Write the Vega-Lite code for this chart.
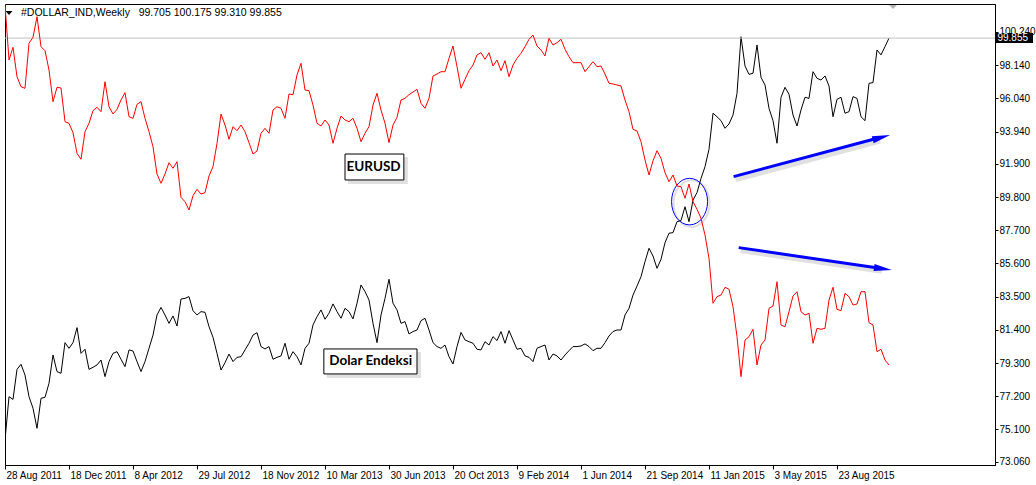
{
"$schema": "https://vega.github.io/schema/vega-lite/v6.json",
"width": 990, "height": 461,
"autosize": {"type": "none"},
"padding": {"left": 5, "top": 4, "right": 41, "bottom": 20},
"background": "#ffffff",
"config": {"view": {"stroke": "#000000", "strokeWidth": 1}, "font": "Liberation Sans",
  "axis": {"labelOverlap": false, "labelFlush": false, "grid": false, "labelFont": "Liberation Sans", "labelFontSize": 10, "labelColor": "#000000", "tickColor": "#000000", "domainColor": "#000000"}},
"datasets": {"weekly": [
{"date":"2011-08-28","dx":74.43,"eurusd":1.4214},{"date":"2011-09-04","dx":77.17,"eurusd":1.3664},{"date":"2011-09-11","dx":77.00,"eurusd":1.3791},{"date":"2011-09-18","dx":78.90,"eurusd":1.3497},{"date":"2011-09-25","dx":79.22,"eurusd":1.3397},{"date":"2011-10-02","dx":78.54,"eurusd":1.3381},{"date":"2011-10-09","dx":77.17,"eurusd":1.3831},{"date":"2011-10-16","dx":76.44,"eurusd":1.3891},{"date":"2011-10-23","dx":75.17,"eurusd":1.4097},{"date":"2011-10-30","dx":77.07,"eurusd":1.3797},
{"date":"2011-11-06","dx":77.13,"eurusd":1.3757},{"date":"2011-11-13","dx":78.02,"eurusd":1.3564},{"date":"2011-11-20","dx":79.81,"eurusd":1.3247},{"date":"2011-11-27","dx":78.76,"eurusd":1.3391},{"date":"2011-12-04","dx":78.65,"eurusd":1.3384},{"date":"2011-12-11","dx":80.59,"eurusd":1.3047},{"date":"2011-12-18","dx":80.23,"eurusd":1.3031},{"date":"2011-12-25","dx":80.59,"eurusd":1.2937},{"date":"2012-01-01","dx":81.54,"eurusd":1.2731},{"date":"2012-01-08","dx":79.91,"eurusd":1.2671},
{"date":"2012-01-15","dx":80.17,"eurusd":1.2947},{"date":"2012-01-22","dx":78.90,"eurusd":1.3031},{"date":"2012-01-29","dx":79.03,"eurusd":1.3157},{"date":"2012-02-05","dx":79.18,"eurusd":1.3191},{"date":"2012-02-12","dx":79.49,"eurusd":1.3147},{"date":"2012-02-19","dx":78.44,"eurusd":1.3447},{"date":"2012-02-26","dx":79.39,"eurusd":1.3197},{"date":"2012-03-04","dx":79.91,"eurusd":1.3124},{"date":"2012-03-11","dx":80.02,"eurusd":1.3171},{"date":"2012-03-18","dx":79.54,"eurusd":1.3264},
{"date":"2012-03-25","dx":79.07,"eurusd":1.3337},{"date":"2012-04-01","dx":80.13,"eurusd":1.3097},{"date":"2012-04-08","dx":80.06,"eurusd":1.3081},{"date":"2012-04-15","dx":79.39,"eurusd":1.3221},{"date":"2012-04-22","dx":78.76,"eurusd":1.3247},{"date":"2012-04-29","dx":79.39,"eurusd":1.3081},{"date":"2012-05-06","dx":80.23,"eurusd":1.2947},{"date":"2012-05-13","dx":81.07,"eurusd":1.2797},{"date":"2012-05-20","dx":82.34,"eurusd":1.2524},{"date":"2012-05-27","dx":82.82,"eurusd":1.2431},
{"date":"2012-06-03","dx":82.34,"eurusd":1.2524},{"date":"2012-06-10","dx":81.81,"eurusd":1.2637},{"date":"2012-06-17","dx":82.28,"eurusd":1.2581},{"date":"2012-06-24","dx":81.64,"eurusd":1.2647},{"date":"2012-07-01","dx":83.35,"eurusd":1.2291},{"date":"2012-07-08","dx":83.39,"eurusd":1.2247},{"date":"2012-07-15","dx":83.50,"eurusd":1.2164},{"date":"2012-07-22","dx":82.61,"eurusd":1.2307},{"date":"2012-07-29","dx":82.34,"eurusd":1.2371},{"date":"2012-08-05","dx":82.55,"eurusd":1.2324},
{"date":"2012-08-12","dx":82.51,"eurusd":1.2337},{"date":"2012-08-19","dx":81.60,"eurusd":1.2504},{"date":"2012-08-26","dx":80.93,"eurusd":1.2597},{"date":"2012-09-02","dx":79.91,"eurusd":1.2831},{"date":"2012-09-09","dx":78.86,"eurusd":1.3124},{"date":"2012-09-16","dx":79.32,"eurusd":1.3014},{"date":"2012-09-23","dx":79.87,"eurusd":1.2871},{"date":"2012-09-30","dx":79.39,"eurusd":1.2997},{"date":"2012-10-07","dx":79.66,"eurusd":1.2957},{"date":"2012-10-14","dx":79.70,"eurusd":1.3014},
{"date":"2012-10-21","dx":80.13,"eurusd":1.2947},{"date":"2012-10-28","dx":80.55,"eurusd":1.2837},{"date":"2012-11-04","dx":81.07,"eurusd":1.2724},{"date":"2012-11-11","dx":81.22,"eurusd":1.2754},{"date":"2012-11-18","dx":80.34,"eurusd":1.2931},{"date":"2012-11-25","dx":80.19,"eurusd":1.2981},{"date":"2012-12-02","dx":80.34,"eurusd":1.2931},{"date":"2012-12-09","dx":79.54,"eurusd":1.3164},{"date":"2012-12-16","dx":79.66,"eurusd":1.3197},{"date":"2012-12-23","dx":79.75,"eurusd":1.3181},
{"date":"2012-12-30","dx":80.55,"eurusd":1.3081},{"date":"2013-01-06","dx":79.54,"eurusd":1.3324},{"date":"2013-01-13","dx":80.02,"eurusd":1.3317},{"date":"2013-01-20","dx":79.70,"eurusd":1.3514},{"date":"2013-01-27","dx":79.18,"eurusd":1.3631},{"date":"2013-02-03","dx":80.23,"eurusd":1.3364},{"date":"2013-02-10","dx":80.55,"eurusd":1.3357},{"date":"2013-02-17","dx":81.71,"eurusd":1.3214},{"date":"2013-02-24","dx":82.23,"eurusd":1.3031},{"date":"2013-03-03","dx":82.66,"eurusd":1.3004},
{"date":"2013-03-10","dx":82.07,"eurusd":1.3064},{"date":"2013-03-17","dx":82.45,"eurusd":1.3014},{"date":"2013-03-24","dx":83.04,"eurusd":1.2831},{"date":"2013-03-31","dx":82.55,"eurusd":1.2981},{"date":"2013-04-07","dx":82.13,"eurusd":1.3104},{"date":"2013-04-14","dx":82.76,"eurusd":1.3064},{"date":"2013-04-21","dx":82.55,"eurusd":1.3047},{"date":"2013-04-28","dx":82.09,"eurusd":1.3081},{"date":"2013-05-05","dx":83.08,"eurusd":1.2981},{"date":"2013-05-12","dx":84.24,"eurusd":1.2847},
{"date":"2013-05-19","dx":83.82,"eurusd":1.2931},{"date":"2013-05-26","dx":83.29,"eurusd":1.2997},{"date":"2013-06-02","dx":81.81,"eurusd":1.3214},{"date":"2013-06-09","dx":80.59,"eurusd":1.3331},{"date":"2013-06-16","dx":82.34,"eurusd":1.3164},{"date":"2013-06-23","dx":83.39,"eurusd":1.3031},{"date":"2013-06-30","dx":84.60,"eurusd":1.2837},{"date":"2013-07-07","dx":83.08,"eurusd":1.3014},{"date":"2013-07-14","dx":82.66,"eurusd":1.3091},{"date":"2013-07-21","dx":81.81,"eurusd":1.3264},
{"date":"2013-07-28","dx":81.92,"eurusd":1.3281},{"date":"2013-08-04","dx":81.14,"eurusd":1.3317},{"date":"2013-08-11","dx":81.29,"eurusd":1.3344},{"date":"2013-08-18","dx":81.39,"eurusd":1.3371},{"date":"2013-08-25","dx":81.98,"eurusd":1.3231},{"date":"2013-09-01","dx":82.13,"eurusd":1.3181},{"date":"2013-09-08","dx":81.39,"eurusd":1.3281},{"date":"2013-09-15","dx":80.59,"eurusd":1.3504},{"date":"2013-09-22","dx":80.34,"eurusd":1.3524},{"date":"2013-09-29","dx":80.23,"eurusd":1.3547},
{"date":"2013-10-06","dx":80.44,"eurusd":1.3547},{"date":"2013-10-13","dx":79.70,"eurusd":1.3681},{"date":"2013-10-20","dx":79.24,"eurusd":1.3804},{"date":"2013-10-27","dx":80.34,"eurusd":1.3597},{"date":"2013-11-03","dx":81.24,"eurusd":1.3381},{"date":"2013-11-10","dx":80.76,"eurusd":1.3471},{"date":"2013-11-17","dx":80.65,"eurusd":1.3557},{"date":"2013-11-24","dx":80.55,"eurusd":1.3614},{"date":"2013-12-01","dx":80.17,"eurusd":1.3714},{"date":"2013-12-08","dx":80.13,"eurusd":1.3737},
{"date":"2013-12-15","dx":80.65,"eurusd":1.3671},{"date":"2013-12-22","dx":80.44,"eurusd":1.3737},{"date":"2013-12-29","dx":80.97,"eurusd":1.3604},{"date":"2014-01-05","dx":80.72,"eurusd":1.3664},{"date":"2014-01-12","dx":81.29,"eurusd":1.3557},{"date":"2014-01-19","dx":80.55,"eurusd":1.3657},{"date":"2014-01-26","dx":81.35,"eurusd":1.3497},{"date":"2014-02-02","dx":80.76,"eurusd":1.3614},{"date":"2014-02-09","dx":80.17,"eurusd":1.3681},{"date":"2014-02-16","dx":80.23,"eurusd":1.3731},
{"date":"2014-02-23","dx":79.75,"eurusd":1.3797},{"date":"2014-03-02","dx":79.66,"eurusd":1.3871},{"date":"2014-03-09","dx":79.39,"eurusd":1.3914},{"date":"2014-03-16","dx":80.23,"eurusd":1.3804},{"date":"2014-03-23","dx":80.34,"eurusd":1.3764},{"date":"2014-03-30","dx":80.44,"eurusd":1.3704},{"date":"2014-04-06","dx":79.49,"eurusd":1.3881},{"date":"2014-04-13","dx":79.87,"eurusd":1.3814},{"date":"2014-04-20","dx":79.75,"eurusd":1.3837},{"date":"2014-04-27","dx":79.49,"eurusd":1.3871},
{"date":"2014-05-04","dx":79.81,"eurusd":1.3771},{"date":"2014-05-11","dx":80.08,"eurusd":1.3697},{"date":"2014-05-18","dx":80.34,"eurusd":1.3637},{"date":"2014-05-25","dx":80.34,"eurusd":1.3637},{"date":"2014-06-01","dx":80.38,"eurusd":1.3637},{"date":"2014-06-08","dx":80.51,"eurusd":1.3547},{"date":"2014-06-15","dx":80.34,"eurusd":1.3597},{"date":"2014-06-22","dx":80.08,"eurusd":1.3647},{"date":"2014-06-29","dx":80.23,"eurusd":1.3597},{"date":"2014-07-06","dx":80.23,"eurusd":1.3604},
{"date":"2014-07-13","dx":80.59,"eurusd":1.3524},{"date":"2014-07-20","dx":81.01,"eurusd":1.3431},{"date":"2014-07-27","dx":81.29,"eurusd":1.3424},{"date":"2014-08-03","dx":81.39,"eurusd":1.3414},{"date":"2014-08-10","dx":81.39,"eurusd":1.3404},{"date":"2014-08-17","dx":82.34,"eurusd":1.3264},{"date":"2014-08-24","dx":82.76,"eurusd":1.3147},{"date":"2014-08-31","dx":83.60,"eurusd":1.2971},{"date":"2014-09-07","dx":84.17,"eurusd":1.2954},{"date":"2014-09-14","dx":84.76,"eurusd":1.2847},
{"date":"2014-09-21","dx":85.71,"eurusd":1.2664},{"date":"2014-09-28","dx":86.56,"eurusd":1.2514},{"date":"2014-10-05","dx":86.07,"eurusd":1.2657},{"date":"2014-10-12","dx":85.29,"eurusd":1.2757},{"date":"2014-10-19","dx":85.86,"eurusd":1.2681},{"date":"2014-10-26","dx":86.91,"eurusd":1.2537},{"date":"2014-11-02","dx":87.51,"eurusd":1.2447},{"date":"2014-11-09","dx":87.55,"eurusd":1.2514},{"date":"2014-11-16","dx":88.24,"eurusd":1.2404},{"date":"2014-11-23","dx":88.31,"eurusd":1.2397},
{"date":"2014-11-30","dx":89.19,"eurusd":1.2281},{"date":"2014-12-07","dx":88.24,"eurusd":1.2424},{"date":"2014-12-14","dx":89.61,"eurusd":1.2247},{"date":"2014-12-21","dx":90.08,"eurusd":1.2171},{"date":"2014-12-28","dx":90.98,"eurusd":1.2081},{"date":"2015-01-04","dx":91.72,"eurusd":1.1914},{"date":"2015-01-11","dx":92.82,"eurusd":1.1681},{"date":"2015-01-18","dx":95.10,"eurusd":1.1231},{"date":"2015-01-25","dx":94.88,"eurusd":1.1297},{"date":"2015-02-01","dx":94.63,"eurusd":1.1314},
{"date":"2015-02-08","dx":94.15,"eurusd":1.1391},{"date":"2015-02-15","dx":94.42,"eurusd":1.1371},{"date":"2015-02-22","dx":94.99,"eurusd":1.1197},{"date":"2015-03-01","dx":96.36,"eurusd":1.0897},{"date":"2015-03-08","dx":99.94,"eurusd":1.0497},{"date":"2015-03-15","dx":98.09,"eurusd":1.0864},{"date":"2015-03-22","dx":97.56,"eurusd":1.0897},{"date":"2015-03-29","dx":97.63,"eurusd":1.0971},{"date":"2015-04-05","dx":99.42,"eurusd":1.0614},{"date":"2015-04-12","dx":97.37,"eurusd":1.0814},
{"date":"2015-04-19","dx":96.89,"eurusd":1.0864},{"date":"2015-04-26","dx":95.41,"eurusd":1.1181},{"date":"2015-05-03","dx":94.63,"eurusd":1.1204},{"date":"2015-05-10","dx":93.20,"eurusd":1.1447},{"date":"2015-05-17","dx":96.11,"eurusd":1.1014},{"date":"2015-05-24","dx":96.74,"eurusd":1.0997},{"date":"2015-05-31","dx":96.30,"eurusd":1.1147},{"date":"2015-06-07","dx":94.99,"eurusd":1.1304},{"date":"2015-06-14","dx":94.29,"eurusd":1.1347},{"date":"2015-06-21","dx":95.31,"eurusd":1.1147},
{"date":"2015-06-28","dx":96.11,"eurusd":1.1114},{"date":"2015-07-05","dx":96.04,"eurusd":1.1131},{"date":"2015-07-12","dx":97.73,"eurusd":1.0831},{"date":"2015-07-19","dx":97.31,"eurusd":1.0981},{"date":"2015-07-26","dx":97.20,"eurusd":1.0971},{"date":"2015-08-02","dx":97.46,"eurusd":1.0981},{"date":"2015-08-09","dx":96.82,"eurusd":1.1264},{"date":"2015-08-16","dx":94.88,"eurusd":1.1391},{"date":"2015-08-23","dx":95.98,"eurusd":1.1171},{"date":"2015-08-30","dx":96.11,"eurusd":1.1157},
{"date":"2015-09-06","dx":95.10,"eurusd":1.1331},{"date":"2015-09-13","dx":95.20,"eurusd":1.1297},{"date":"2015-09-20","dx":96.15,"eurusd":1.1214},{"date":"2015-09-27","dx":96.04,"eurusd":1.1224},{"date":"2015-10-04","dx":94.88,"eurusd":1.1347},{"date":"2015-10-11","dx":94.63,"eurusd":1.1347},{"date":"2015-10-18","dx":96.99,"eurusd":1.1037},{"date":"2015-10-25","dx":97.04,"eurusd":1.1014},{"date":"2015-11-01","dx":99.10,"eurusd":1.0747},{"date":"2015-11-08","dx":98.79,"eurusd":1.0771},
{"date":"2015-11-15","dx":99.31,"eurusd":1.0664},{"date":"2015-11-22","dx":99.855,"eurusd":1.0614}
]},
"data": {"name": "weekly"},
"layer": [
 {
  "layer": [
   {
    "mark": {"type": "line", "color": "#000000", "strokeWidth": 1, "clip": true},
    "encoding": {
     "x": {"field": "date", "type": "temporal",
       "scale": {"domain": [{"year": 2011, "month": 8, "date": 28, "utc": true}, {"year": 2016, "month": 5, "date": 25, "hours": 12, "utc": true}]},
       "axis": {"title": null, "grid": false, "orient": "bottom", "labelExpr": "utcFormat(datum.value, '%-d %b %Y')", "tickCount": 40,
         "values": [
          {"year": 2011, "month": 8, "date": 28, "utc": true}, {"year": 2011, "month": 12, "date": 18, "utc": true},
          {"year": 2012, "month": 4, "date": 8, "utc": true}, {"year": 2012, "month": 7, "date": 29, "utc": true},
          {"year": 2012, "month": 11, "date": 18, "utc": true}, {"year": 2013, "month": 3, "date": 10, "utc": true},
          {"year": 2013, "month": 6, "date": 30, "utc": true}, {"year": 2013, "month": 10, "date": 20, "utc": true},
          {"year": 2014, "month": 2, "date": 9, "utc": true}, {"year": 2014, "month": 6, "date": 1, "utc": true},
          {"year": 2014, "month": 9, "date": 21, "utc": true}, {"year": 2015, "month": 1, "date": 11, "utc": true},
          {"year": 2015, "month": 5, "date": 3, "utc": true}, {"year": 2015, "month": 8, "date": 23, "utc": true}],
         "labelAlign": "left", "labelBaseline": "top", "labelOffset": 1, "labelPadding": 1, "tickSize": 4,
         "labelFlush": false, "labelOverlap": false, "labelFont": "Liberation Sans", "labelFontSize": 10,
         "labelColor": "#000000", "tickColor": "#000000", "domainColor": "#000000"}},
     "y": {"field": "dx", "type": "quantitative",
       "scale": {"domain": [72.85, 102.01], "nice": false, "zero": false},
       "axis": {"title": null, "grid": false, "orient": "right", "labelExpr": "format(datum.value, '.3f')", "tickCount": 40,
         "values": [73.06, 75.1, 77.2, 79.3, 81.4, 83.5, 85.6, 87.7, 89.8, 91.9, 93.94, 96.04, 98.14, 100.24],
         "tickSize": 3, "labelPadding": 1, "labelFont": "Liberation Sans", "labelFontSize": 10,
         "labelColor": "#000000", "tickColor": "#000000", "domainColor": "#000000", "labelFlush": false, "labelOverlap": false}}
    }
   },
   {
    "mark": {"type": "rule", "color": "#c0c0c0", "strokeWidth": 1},
    "data": {"values": [{}]},
    "encoding": {"y": {"datum": 99.855, "type": "quantitative"}}
   },
   {
    "mark": {"type": "rect", "color": "#000000"},
    "data": {"values": [{}]},
    "encoding": {
     "x": {"datum": {"year": 2016, "month": 5, "date": 27, "utc": true}, "type": "temporal"},
     "x2": {"datum": {"year": 2016, "month": 7, "date": 31, "utc": true}},
     "y": {"datum": 100.17, "type": "quantitative"},
     "y2": {"datum": 99.54}
    }
   },
   {
    "mark": {"type": "text", "color": "#ffffff", "align": "left", "baseline": "middle", "dx": 1, "fontSize": 10, "font": "Liberation Sans"},
    "data": {"values": [{}]},
    "encoding": {
     "x": {"datum": {"year": 2016, "month": 5, "date": 28, "utc": true}, "type": "temporal"},
     "y": {"datum": 99.855, "type": "quantitative"},
     "text": {"value": "99.855"}
    }
   },
   {
    "mark": {"type": "point", "shape": "M -1 -0.5 L 1 -0.5 L 0 0.5 Z", "size": 64, "filled": true, "color": "#b4b4b4", "opacity": 1, "strokeWidth": 0},
    "data": {"values": [{}]},
    "encoding": {
     "x": {"datum": {"year": 2015, "month": 11, "date": 29, "utc": true}, "type": "temporal"},
     "y": {"datum": 101.82, "type": "quantitative"}
    }
   },
   {
    "mark": {"type": "point", "shape": "M -1 -0.55 L 1 -0.55 L 0 0.55 Z", "size": 49, "filled": true, "color": "#000000", "opacity": 1, "strokeWidth": 0, "dx": 6},
    "data": {"values": [{}]},
    "encoding": {
     "x": {"datum": {"year": 2011, "month": 9, "date": 4, "utc": true}, "type": "temporal"},
     "y": {"datum": 101.44, "type": "quantitative"}
    }
   },
   {
    "mark": {"type": "text", "color": "#000000", "align": "left", "baseline": "middle", "dx": 16, "fontSize": 10.5, "font": "Liberation Sans"},
    "data": {"values": [{}]},
    "encoding": {
     "x": {"datum": {"year": 2011, "month": 8, "date": 28, "utc": true}, "type": "temporal"},
     "y": {"datum": 101.44, "type": "quantitative"},
     "text": {"value": "#DOLLAR_IND,Weekly\u00a0\u00a0\u00a099.705\u00a0100.175\u00a099.310\u00a099.855"}
    }
   },
   {
    "mark": {"type": "rect", "color": "#000000", "opacity": 0.12, "xOffset": 3, "yOffset": 3, "x2Offset": 4, "y2Offset": 4},
    "data": {"values": [{}]},
    "encoding": {
     "x": {"datum": {"year": 2013, "month": 4, "date": 14, "utc": true}, "type": "temporal"},
     "x2": {"datum": {"year": 2013, "month": 7, "date": 26, "utc": true}},
     "y": {"datum": 92.52, "type": "quantitative"}, "y2": {"datum": 90.88}
    }
   },
   {
    "mark": {"type": "rect", "fill": "#ffffff", "stroke": "#000000", "strokeWidth": 1},
    "data": {"values": [{}]},
    "encoding": {
     "x": {"datum": {"year": 2013, "month": 4, "date": 14, "utc": true}, "type": "temporal"},
     "x2": {"datum": {"year": 2013, "month": 7, "date": 26, "utc": true}},
     "y": {"datum": 92.52, "type": "quantitative"}, "y2": {"datum": 90.88}
    }
   },
   {
    "mark": {"type": "text", "color": "#000000", "align": "center", "baseline": "middle", "font": "Lato", "fontWeight": "bold", "fontSize": 13.5},
    "data": {"values": [{}]},
    "encoding": {
     "x": {"datum": {"year": 2013, "month": 6, "date": 3, "utc": true}, "type": "temporal"},
     "y": {"datum": 91.70, "type": "quantitative"},
     "text": {"value": "EURUSD"}
    }
   },
   {
    "mark": {"type": "rect", "color": "#000000", "opacity": 0.12, "xOffset": 3, "yOffset": 3, "x2Offset": 4, "y2Offset": 4},
    "data": {"values": [{}]},
    "encoding": {
     "x": {"datum": {"year": 2013, "month": 3, "date": 8, "utc": true}, "type": "temporal"},
     "x2": {"datum": {"year": 2013, "month": 8, "date": 18, "utc": true}},
     "y": {"datum": 80.19, "type": "quantitative"}, "y2": {"datum": 78.61}
    }
   },
   {
    "mark": {"type": "rect", "fill": "#ffffff", "stroke": "#000000", "strokeWidth": 1},
    "data": {"values": [{}]},
    "encoding": {
     "x": {"datum": {"year": 2013, "month": 3, "date": 8, "utc": true}, "type": "temporal"},
     "x2": {"datum": {"year": 2013, "month": 8, "date": 18, "utc": true}},
     "y": {"datum": 80.19, "type": "quantitative"}, "y2": {"datum": 78.61}
    }
   },
   {
    "mark": {"type": "text", "color": "#000000", "align": "center", "baseline": "middle", "font": "Lato", "fontWeight": "bold", "fontSize": 13.5},
    "data": {"values": [{}]},
    "encoding": {
     "x": {"datum": {"year": 2013, "month": 5, "date": 29, "utc": true}, "type": "temporal"},
     "y": {"datum": 79.40, "type": "quantitative"},
     "text": {"value": "Dolar Endeksi"}
    }
   },
   {
    "mark": {"type": "point", "shape": "M -0.773 0 A 0.773 1 0 1 0 0.773 0 A 0.773 1 0 1 0 -0.773 0 Z", "size": 2172, "filled": false, "stroke": "#000000", "strokeWidth": 2, "opacity": 0.12, "xOffset": 2, "yOffset": 2},
    "data": {"values": [{}]},
    "encoding": {
     "x": {"datum": {"year": 2014, "month": 12, "date": 8, "utc": true}, "type": "temporal"},
     "y": {"datum": 89.51, "type": "quantitative"}
    }
   },
   {
    "mark": {"type": "point", "shape": "M -0.773 0 A 0.773 1 0 1 0 0.773 0 A 0.773 1 0 1 0 -0.773 0 Z", "size": 2172, "filled": false, "stroke": "#0000ff", "strokeWidth": 1, "opacity": 1},
    "data": {"values": [{}]},
    "encoding": {
     "x": {"datum": {"year": 2014, "month": 12, "date": 8, "utc": true}, "type": "temporal"},
     "y": {"datum": 89.51, "type": "quantitative"}
    }
   },
   {
    "mark": {"type": "rule", "color": "#000000", "opacity": 0.12, "strokeWidth": 5, "xOffset": 2, "yOffset": 3, "x2Offset": 2, "y2Offset": 3},
    "data": {"values": [{}]},
    "encoding": {
     "x": {"datum": {"year": 2015, "month": 2, "date": 23, "utc": true}, "type": "temporal"},
     "y": {"datum": 91.09, "type": "quantitative"},
     "x2": {"datum": {"year": 2015, "month": 11, "date": 3, "utc": true}},
     "y2": {"datum": 93.53}
    }
   },
   {
    "mark": {"type": "rule", "color": "#000000", "opacity": 0.12, "strokeWidth": 5, "xOffset": 2, "yOffset": 3, "x2Offset": 2, "y2Offset": 3},
    "data": {"values": [{}]},
    "encoding": {
     "x": {"datum": {"year": 2015, "month": 3, "date": 4, "utc": true}, "type": "temporal"},
     "y": {"datum": 86.60, "type": "quantitative"},
     "x2": {"datum": {"year": 2015, "month": 11, "date": 6, "utc": true}},
     "y2": {"datum": 85.29}
    }
   },
   {
    "mark": {"type": "rule", "color": "#0000ff", "strokeWidth": 3},
    "data": {"values": [{}]},
    "encoding": {
     "x": {"datum": {"year": 2015, "month": 2, "date": 23, "utc": true}, "type": "temporal"},
     "y": {"datum": 91.09, "type": "quantitative"},
     "x2": {"datum": {"year": 2015, "month": 11, "date": 3, "utc": true}},
     "y2": {"datum": 93.53}
    }
   },
   {
    "mark": {"type": "rule", "color": "#0000ff", "strokeWidth": 3},
    "data": {"values": [{}]},
    "encoding": {
     "x": {"datum": {"year": 2015, "month": 3, "date": 4, "utc": true}, "type": "temporal"},
     "y": {"datum": 86.60, "type": "quantitative"},
     "x2": {"datum": {"year": 2015, "month": 11, "date": 6, "utc": true}},
     "y2": {"datum": 85.29}
    }
   },
   {
    "mark": {"type": "point", "shape": "M 0 0 L -2 -0.4 L -2 0.4 Z", "size": 324, "filled": true, "color": "#0000ff", "opacity": 1, "strokeWidth": 0, "angle": -14.9},
    "data": {"values": [{}]},
    "encoding": {
     "x": {"datum": {"year": 2015, "month": 11, "date": 24, "utc": true}, "type": "temporal"},
     "y": {"datum": 93.72, "type": "quantitative"}
    }
   },
   {
    "mark": {"type": "point", "shape": "M 0 0 L -2 -0.4 L -2 0.4 Z", "size": 324, "filled": true, "color": "#0000ff", "opacity": 1, "strokeWidth": 0, "angle": 8.3},
    "data": {"values": [{}]},
    "encoding": {
     "x": {"datum": {"year": 2015, "month": 11, "date": 27, "utc": true}, "type": "temporal"},
     "y": {"datum": 85.18, "type": "quantitative"}
    }
   }
  ]
 },
 {
  "mark": {"type": "line", "color": "#ff0000", "strokeWidth": 1, "clip": true},
  "encoding": {
   "x": {"field": "date", "type": "temporal"},
   "y": {"field": "eurusd", "type": "quantitative", "scale": {"domain": [0.9614, 1.4224], "nice": false, "zero": false}, "axis": null}
  }
 }
],
"resolve": {"scale": {"y": "independent"}}
}
